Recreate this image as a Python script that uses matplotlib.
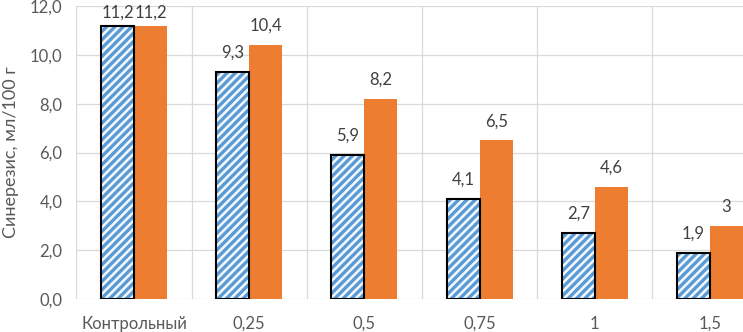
import matplotlib
matplotlib.use("Agg")
import matplotlib.pyplot as plt
import numpy as np

categories = ["Контрольный", "0,25", "0,5", "0,75", "1", "1,5"]
series_hatched = [11.2, 9.3, 5.9, 4.1, 2.7, 1.9]
series_orange = [11.2, 10.4, 8.2, 6.5, 4.6, 3]
y_ticks = [0, 2, 4, 6, 8, 10, 12]
y_label = "Синерезис, мл/100 г"

plt.rcParams['font.family'] = ['Lato', 'DejaVu Sans']
plt.rcParams['hatch.linewidth'] = 2.4

W, H = 743, 332
fig = plt.figure(figsize=(W / 100, H / 100), dpi=100)
left = 76.4 / W
right = 767.6 / W
bottom = (H - 299) / H
top = (H - 6) / H
ax = fig.add_axes([left, bottom, right - left, top - bottom])

x = np.arange(len(categories))
bw = 0.287
grey_txt = "#595959"
blue = "#5B9BD5"
orange = "#ED7D31"

ax.bar(x - bw / 2, series_hatched, width=bw, facecolor="#F4F9FE", edgecolor=blue,
       hatch="////", linewidth=0, zorder=3)
ax.bar(x - bw / 2, series_hatched, width=bw, facecolor="none", edgecolor="black",
       linewidth=1.5, zorder=4)
ax.bar(x + bw / 2, series_orange, width=bw, color=orange, linewidth=0, zorder=3)

ax.set_xlim(-0.5, len(categories) - 0.5)
ax.set_ylim(0, 12)


def fmt(v):
    return str(v).replace(".", ",")


px_per_unit = (299 - 6) / 12.0


def add_label(xi, v):
    top_px = v * px_per_unit
    bar_top_from_fig_top = 299 - top_px
    gap = min(14.0, bar_top_from_fig_top - 18.0)
    ax.annotate(fmt(v), (xi, v), xytext=(0, gap * 0.72), textcoords="offset points",
                ha="center", va="baseline", fontsize=12, color="#404040")


for xi, v in zip(x - bw / 2, series_hatched):
    add_label(xi, v)
for xi, v in zip(x + bw / 2, series_orange):
    add_label(xi, v)

ax.set_yticks(y_ticks)
ax.set_yticklabels([f"{t:.1f}".replace(".", ",") for t in y_ticks])
ax.set_xticks(x)
ax.set_xticklabels(categories)
ax.tick_params(axis="both", length=0, labelsize=12, labelcolor=grey_txt)
ax.tick_params(axis="y", pad=10)
ax.tick_params(axis="x", pad=12)

for t in y_ticks:
    ax.axhline(t, color="#D9D9D9", linewidth=0.9, zorder=1)
for b in np.arange(-0.5, len(categories), 1.0):
    ax.axvline(b, color="#D9D9D9", linewidth=0.9, zorder=1)

for s in ax.spines.values():
    s.set_visible(False)

ax.set_ylabel(y_label, fontsize=13, color=grey_txt, labelpad=8)

fig.savefig("out.png", dpi=100)
